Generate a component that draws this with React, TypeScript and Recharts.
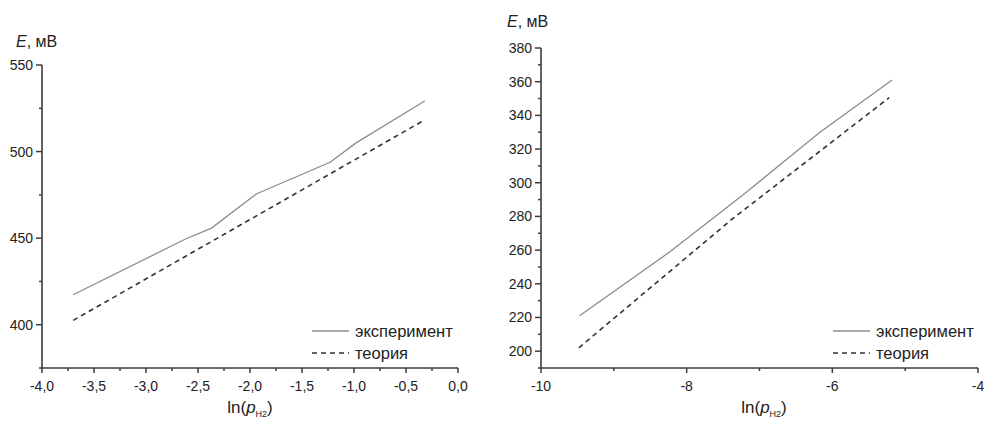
import React from 'react'
import { LineChart, Line, XAxis, YAxis, Legend } from 'recharts'

// left panel: E vs ln(pH2), narrow range
const leftExpX = [-3.7, -2.62, -2.37, -1.94, -1.23, -0.98, -0.32]
const leftExpE = [417.3, 449.5, 455.8, 475.5, 493.8, 505, 529.2]
const leftTheoryX = [-3.7, -0.32]
const leftTheoryE = [402.5, 518.3]

const leftXTicks = [-4, -3.75, -3.5, -3.25, -3, -2.75, -2.5, -2.25, -2, -1.75, -1.5, -1.25, -1, -0.75, -0.5, -0.25, 0]
const leftXLabeled = [-4, -3.5, -3, -2.5, -2, -1.5, -1, -0.5, 0]
const leftYTicks = [375, 400, 425, 450, 475, 500, 525, 550]
const leftYLabeled = [400, 450, 500, 550]

// right panel: wide range
const rightExpX = [-9.47, -8.23, -7.22, -6.17, -5.18]
const rightExpE = [221, 259, 293, 330, 361]
const rightTheoryX = [-9.48, -7.36, -5.22]
const rightTheoryE = [202, 279, 350.5]

const rightXTicks = [-10, -9, -8, -7, -6, -5, -4]
const rightXLabeled = [-10, -8, -6, -4]
const rightYTicks = [190, 200, 210, 220, 230, 240, 250, 260, 270, 280, 290, 300, 310, 320, 330, 340, 350, 360, 370, 380]
const rightYLabeled = [200, 220, 240, 260, 280, 300, 320, 340, 360, 380]

const seriesNames = ['эксперимент', 'теория']

const FONT = '"Liberation Sans", Arial, sans-serif'
const AXIS = '#3c3c3c'
const TEXT = '#222'

const zip = (xs: number[], ys: number[]) => xs.map((x, i) => ({ x, e: ys[i] }))

const commaFmt = (v: number) => v.toFixed(1).replace('.', ',')
const intFmt = (v: number) => String(v)

const has = (list: number[], v: number) => list.some((m) => Math.abs(m - v) < 1e-6)

function makeXTick(labeled: number[], fmt: (v: number) => string) {
  return (props: any) => {
    const { x, y, payload } = props
    const major = has(labeled, payload.value)
    return (
      <g>
        <line x1={x} x2={x} y1={y} y2={y + (major ? 5 : 3)} stroke={AXIS} strokeWidth={1.5} />
        {major && (
          <text x={x} y={y + 18} textAnchor="middle" dominantBaseline="central" fontFamily={FONT} fontSize={14} fill={TEXT}>
            {fmt(payload.value)}
          </text>
        )}
      </g>
    )
  }
}

function makeYTick(labeled: number[]) {
  return (props: any) => {
    const { x, y, payload } = props
    const major = has(labeled, payload.value)
    return (
      <g>
        <line x1={x} x2={x - (major ? 6 : 3)} y1={y} y2={y} stroke={AXIS} strokeWidth={1.5} />
        {major && (
          <text x={x - 9} y={y} textAnchor="end" dominantBaseline="central" fontFamily={FONT} fontSize={14} fill={TEXT}>
            {payload.value}
          </text>
        )}
      </g>
    )
  }
}

const LegendBox = (props: any) => {
  const items = [...(props.payload || [])].sort(
    (a: any, b: any) => seriesNames.indexOf(a.value) - seriesNames.indexOf(b.value)
  )
  return (
    <div style={{ fontFamily: FONT, fontSize: 16.5, color: TEXT, lineHeight: '22px' }}>
      {items.map((it: any) => (
        <div key={it.value} style={{ display: 'flex', alignItems: 'center' }}>
          <svg width={38} height={10}>
            <line x1={0} x2={37} y1={5} y2={5} stroke={it.color} strokeWidth={1.5}
              strokeDasharray={it.payload?.strokeDasharray} />
          </svg>
          <span style={{ marginLeft: 5 }}>{it.value}</span>
        </div>
      ))}
    </div>
  )
}

const YTitle = ({ left, top }: { left: number; top: number }) => (
  <div style={{ position: 'absolute', left, top, fontFamily: FONT, fontSize: 16, color: TEXT, whiteSpace: 'nowrap' }}>
    <i>E</i>, мВ
  </div>
)

const XTitle = ({ cx, top }: { cx: number; top: number }) => (
  <div style={{ position: 'absolute', left: cx - 60, width: 120, top, textAlign: 'center', fontFamily: FONT, fontSize: 17, color: TEXT }}>
    ln(<i>p</i><span style={{ fontSize: 9, position: 'relative', top: 4 }}>H2</span>)
  </div>
)

interface PanelProps {
  left: number
  width: number
  margin: { top: number; right: number; bottom: number; left: number }
  yWidth: number
  xDomain: [number, number]
  yDomain: [number, number]
  xTicks: number[]
  xLabeled: number[]
  xFmt: (v: number) => string
  yTicks: number[]
  yLabeled: number[]
  exp: { x: number; e: number }[]
  theory: { x: number; e: number }[]
  legendLeft: number
}

function Panel(p: PanelProps) {
  return (
    <div style={{ position: 'absolute', left: p.left, top: 0 }}>
      <LineChart width={p.width} height={425} margin={p.margin}>
        <XAxis
          type="number"
          dataKey="x"
          domain={p.xDomain}
          ticks={p.xTicks}
          interval={0}
          height={57}
          tickSize={0}
          tickMargin={0}
          tickLine={false}
          axisLine={{ stroke: AXIS, strokeWidth: 1.6 }}
          tick={makeXTick(p.xLabeled, p.xFmt)}
          allowDataOverflow
        />
        <YAxis
          type="number"
          domain={p.yDomain}
          ticks={p.yTicks}
          interval={0}
          width={p.yWidth}
          tickSize={0}
          tickMargin={0}
          tickLine={false}
          axisLine={{ stroke: AXIS, strokeWidth: 1.6 }}
          tick={makeYTick(p.yLabeled)}
          allowDataOverflow
        />
        <Legend
          layout="vertical"
          align="center"
          verticalAlign="middle"
          wrapperStyle={{ left: p.legendLeft, top: 320, width: 'auto' }}
          content={<LegendBox />}
        />
        <Line data={p.exp} dataKey="e" name={seriesNames[0]} stroke="#8c8c8c" strokeWidth={1.3}
          dot={false} isAnimationActive={false} />
        <Line data={p.theory} dataKey="e" name={seriesNames[1]} stroke="#333" strokeWidth={1.6}
          strokeDasharray="5 4" dot={false} isAnimationActive={false} />
      </LineChart>
    </div>
  )
}

export default function App() {
  return (
    <div style={{ position: 'absolute', left: 0, top: 0, width: 986, height: 425, background: '#fff', overflow: 'hidden' }}>
      <Panel
        left={0}
        width={470}
        margin={{ top: 65, right: 12, bottom: 0, left: 2 }}
        yWidth={40}
        xDomain={[-4, 0]}
        yDomain={[375, 550]}
        xTicks={leftXTicks}
        xLabeled={leftXLabeled}
        xFmt={commaFmt}
        yTicks={leftYTicks}
        yLabeled={leftYLabeled}
        exp={zip(leftExpX, leftExpE)}
        theory={zip(leftTheoryX, leftTheoryE)}
        legendLeft={312}
      />
      <Panel
        left={500}
        width={486}
        margin={{ top: 48, right: 8, bottom: 0, left: 0 }}
        yWidth={41}
        xDomain={[-10, -4]}
        yDomain={[190, 380]}
        xTicks={rightXTicks}
        xLabeled={rightXLabeled}
        xFmt={intFmt}
        yTicks={rightYTicks}
        yLabeled={rightYLabeled}
        exp={zip(rightExpX, rightExpE)}
        theory={zip(rightTheoryX, rightTheoryE)}
        legendLeft={333}
      />
      <YTitle left={16} top={33} />
      <YTitle left={507} top={13} />
      <XTitle cx={250} top={398} />
      <XTitle cx={764} top={398} />
    </div>
  )
}
